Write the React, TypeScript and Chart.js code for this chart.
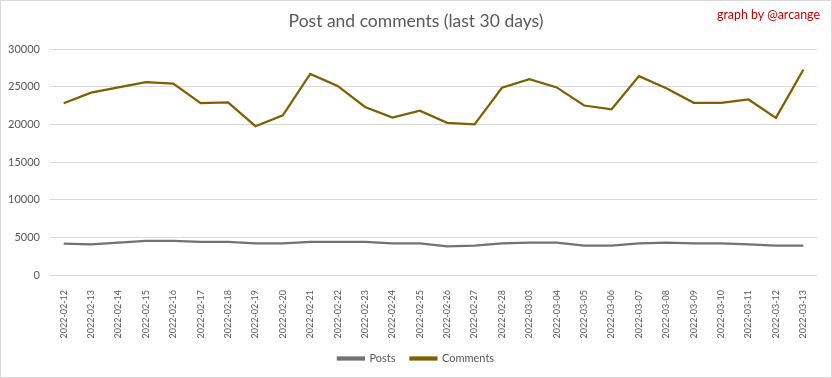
import React, { useEffect, useRef } from "react";
import { Chart, registerables } from "chart.js";

Chart.register(...registerables);

const labels = [
  "2022-02-12", "2022-02-13", "2022-02-14", "2022-02-15", "2022-02-16", "2022-02-17", "2022-02-18",
  "2022-02-19", "2022-02-20", "2022-02-21", "2022-02-22", "2022-02-23", "2022-02-24", "2022-02-25",
  "2022-02-26", "2022-02-27", "2022-02-28", "2022-03-03", "2022-03-04", "2022-03-05", "2022-03-06",
  "2022-03-07", "2022-03-08", "2022-03-09", "2022-03-10", "2022-03-11", "2022-03-12", "2022-03-13",
];

const posts = [
  4180, 4050, 4300, 4530, 4530, 4400, 4400, 4200, 4200, 4400, 4400, 4400, 4200, 4200,
  3800, 3900, 4200, 4300, 4300, 3900, 3900, 4200, 4300, 4200, 4200, 4050, 3900, 3900,
];

const comments = [
  22800, 24200, 24900, 25600, 25400, 22800, 22900, 19750, 21200, 26700, 25100, 22300, 20900, 21800,
  20200, 20000, 24850, 26000, 24900, 22500, 22000, 26400, 24800, 22850, 22850, 23300, 20850, 27250,
];

const yTicksMax = 30000;
const yTicksStep = 5000;

const FONT = "Lato, 'Open Sans', sans-serif";

export default function App() {
  const ref = useRef<HTMLCanvasElement | null>(null);

  useEffect(() => {
    if (!ref.current) return;
    const frame = {
      id: "frame",
      beforeDraw(chart: any) {
        const c = chart.ctx;
        c.save();
        c.fillStyle = "#ffffff";
        c.fillRect(0, 0, chart.width, chart.height);
        c.strokeStyle = "#d9d9d9";
        c.lineWidth = 1;
        c.strokeRect(0.5, 0.5, chart.width - 1, chart.height - 1);
        c.restore();
      },
      afterDraw(chart: any) {
        const c = chart.ctx;
        c.save();
        c.fillStyle = "#cc0000";
        c.font = "12.4px " + FONT;
        c.textAlign = "right";
        c.textBaseline = "middle";
        c.fillText("graph by @arcange", 820, 15);
        c.restore();
      },
    };
    const chart = new Chart(ref.current, {
      type: "line",
      data: {
        labels,
        datasets: [
          {
            label: "Posts",
            data: posts,
            borderColor: "#767171",
            backgroundColor: "#767171",
            borderWidth: 2.25,
            pointRadius: 0,
            tension: 0,
          },
          {
            label: "Comments",
            data: comments,
            borderColor: "#7f6000",
            backgroundColor: "#7f6000",
            borderWidth: 2.25,
            pointRadius: 0,
            tension: 0,
          },
        ],
      },
      options: {
        responsive: false,
        animation: false,
        layout: { padding: { left: 0, right: 0, top: 0, bottom: 4 } },
        plugins: {
          title: {
            display: true,
            text: "Post and comments (last 30 days)",
            color: "#595959",
            font: { family: FONT, size: 17.5, weight: "normal" },
            padding: { top: 11, bottom: 17 },
          },
          legend: {
            position: "bottom",
            labels: {
              color: "#595959",
              font: { family: FONT, size: 11 },
              boxWidth: 26,
              boxHeight: 2,
              padding: 15,
            },
          },
          tooltip: { enabled: false },
        },
        scales: {
          x: {
            offset: true,
            grid: { display: false },
            border: { display: false },
            afterFit: (scale: any) => {
              scale.height = 63;
            },
            ticks: {
              color: "#595959",
              font: { family: FONT, size: 9 },
              minRotation: 90,
              maxRotation: 90,
              autoSkip: false,
              padding: 7,
            },
          },
          y: {
            min: 0,
            max: yTicksMax,
            grid: { color: "#d9d9d9", drawTicks: false },
            border: { display: false },
            afterFit: (scale: any) => {
              scale.width = 50;
            },
            ticks: {
              stepSize: yTicksStep,
              color: "#595959",
              font: { family: FONT, size: 11 },
              padding: 10,
              callback: (v: any) => String(v),
            },
          },
          spacer: {
            type: "linear",
            position: "right",
            min: 0,
            max: 1,
            grid: { display: false },
            border: { display: false },
            ticks: { display: false },
            afterFit: (scale: any) => {
              scale.width = 15;
            },
          },
        },
      },
      plugins: [frame],
    });
    return () => chart.destroy();
  }, []);

  return (
    <div style={{ position: "absolute", left: 0, top: 0, width: 832, height: 378 }}>
      <canvas ref={ref} width={832} height={378} style={{ width: 832, height: 378, display: "block" }} />
    </div>
  );
}
